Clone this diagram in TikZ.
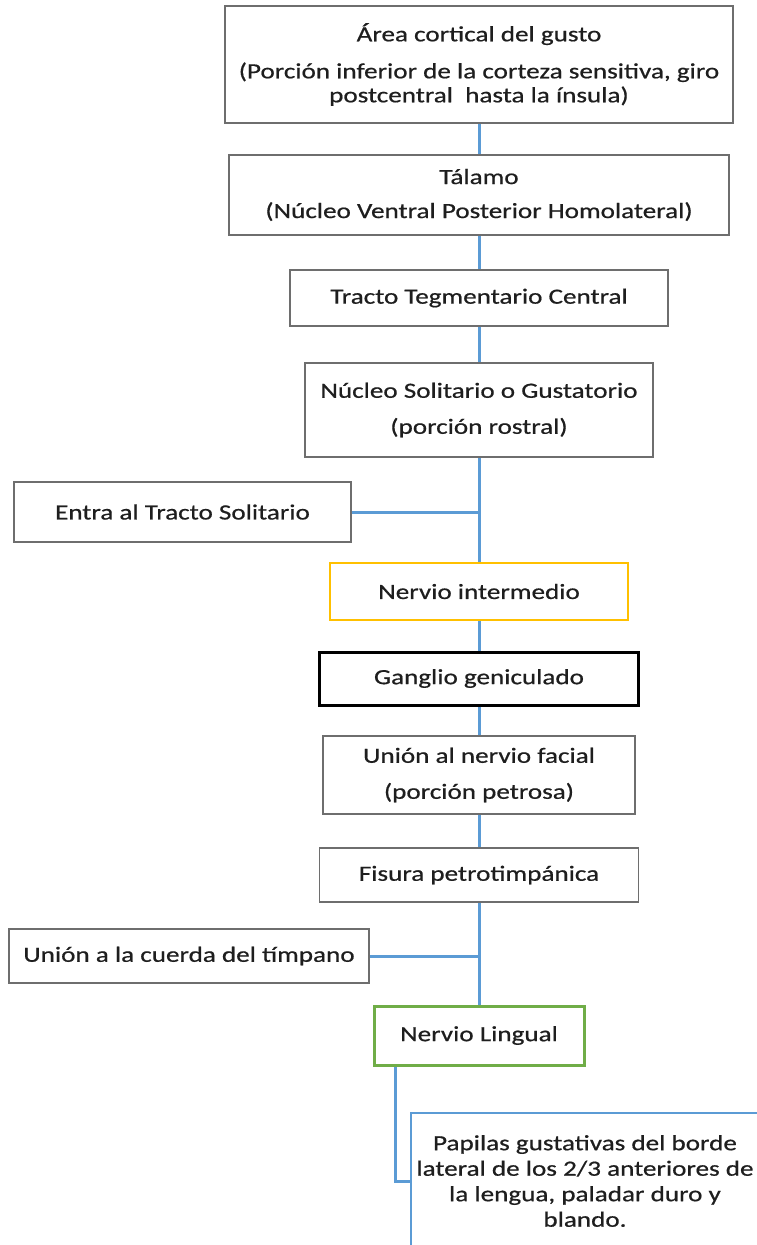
\documentclass[tikz,border=0pt]{standalone}
\usepackage{fontspec}
\setmainfont{Carlito}[FakeStretch=1.25, FakeBold=0.6]
\definecolor{linkblue}{HTML}{5B9BD5}
\definecolor{boxgray}{HTML}{6E6E6E}
\definecolor{boxyellow}{HTML}{FFC000}
\definecolor{boxgreen}{HTML}{70AD47}
\definecolor{txtgray}{HTML}{1E1E1E}
\begin{document}
\begin{tikzpicture}[x=1pt, y=-1pt,
    box/.style={draw=boxgray, line width=1.5pt, fill=white, inner sep=0pt, align=center,
                text=txtgray, font=\fontsize{21.7}{24}\selectfont},
    conn/.style={draw=linkblue, line width=3pt}]
    \useasboundingbox (0,0) rectangle (757,1245);
    \clip (0,0) rectangle (757,1245);

    % --- central chain ---
    \node[box, minimum width=508pt, minimum height=117pt] (area) at (479,64.5)
        {Área cortical del gusto\\[13pt](Porción inferior de la corteza sensitiva, giro\\postcentral\ \ hasta la ínsula)};
    \node[box, minimum width=500pt, minimum height=80pt] (talamo) at (479,195)
        {Tálamo\\[10pt](Núcleo Ventral Posterior Homolateral)};
    \node[box, minimum width=378pt, minimum height=56pt] (tracto) at (479,298)
        {Tracto Tegmentario Central};
    \node[box, minimum width=348pt, minimum height=94pt] (nucleo) at (479,410)
        {Núcleo Solitario o Gustatorio\\[12pt](porción rostral)};
    \node[box, draw=boxyellow, line width=2.4pt, minimum width=298pt, minimum height=57pt] (intermedio) at (479,591.5)
        {Nervio intermedio};
    \node[box, draw=black, line width=3pt, minimum width=319pt, minimum height=53pt] (ganglio) at (479,678.5)
        {Ganglio geniculado};
    \node[box, minimum width=312pt, minimum height=78pt] (facial) at (479,775)
        {Unión al nervio facial\\[12pt](porción petrosa)};
    \node[box, minimum width=319pt, minimum height=54pt] (fisura) at (479,875)
        {Fisura petrotimpánica};
    \node[box, draw=boxgreen, line width=3pt, minimum width=210pt, minimum height=59pt] (lingual) at (479,1035.5)
        {Nervio Lingual};

    % --- side branches ---
    \node[box, minimum width=337pt, minimum height=60pt] (entra) at (182.5,512)
        {Entra al Tracto Solitario};
    \node[box, minimum width=360pt, minimum height=54pt] (cuerda) at (189,956)
        {Unión a la cuerda del tímpano};
    \node[box, draw=linkblue, line width=2.6pt, minimum width=348pt, minimum height=136pt,
          font=\fontsize{21.7}{25.5}\selectfont] (papilas) at (585,1181)
        {Papilas gustativas del borde\\lateral de los 2/3 anteriores de\\la lengua, paladar duro y\\blando.};

    % --- connectors ---
    \draw[conn] (area) -- (talamo);
    \draw[conn] (talamo) -- (tracto);
    \draw[conn] (tracto) -- (nucleo);
    \draw[conn] (nucleo) -- (intermedio);
    \draw[conn] (entra.east) -- (entra.east -| nucleo.south);
    \draw[conn] (intermedio) -- (ganglio);
    \draw[conn] (ganglio) -- (facial);
    \draw[conn] (facial) -- (fisura);
    \draw[conn] (fisura) -- (lingual);
    \draw[conn] (cuerda.east) -- (cuerda.east -| fisura.south);
    \draw[conn] ([xshift=23pt]lingual.south west) |- (papilas.west);
\end{tikzpicture}
\end{document}
